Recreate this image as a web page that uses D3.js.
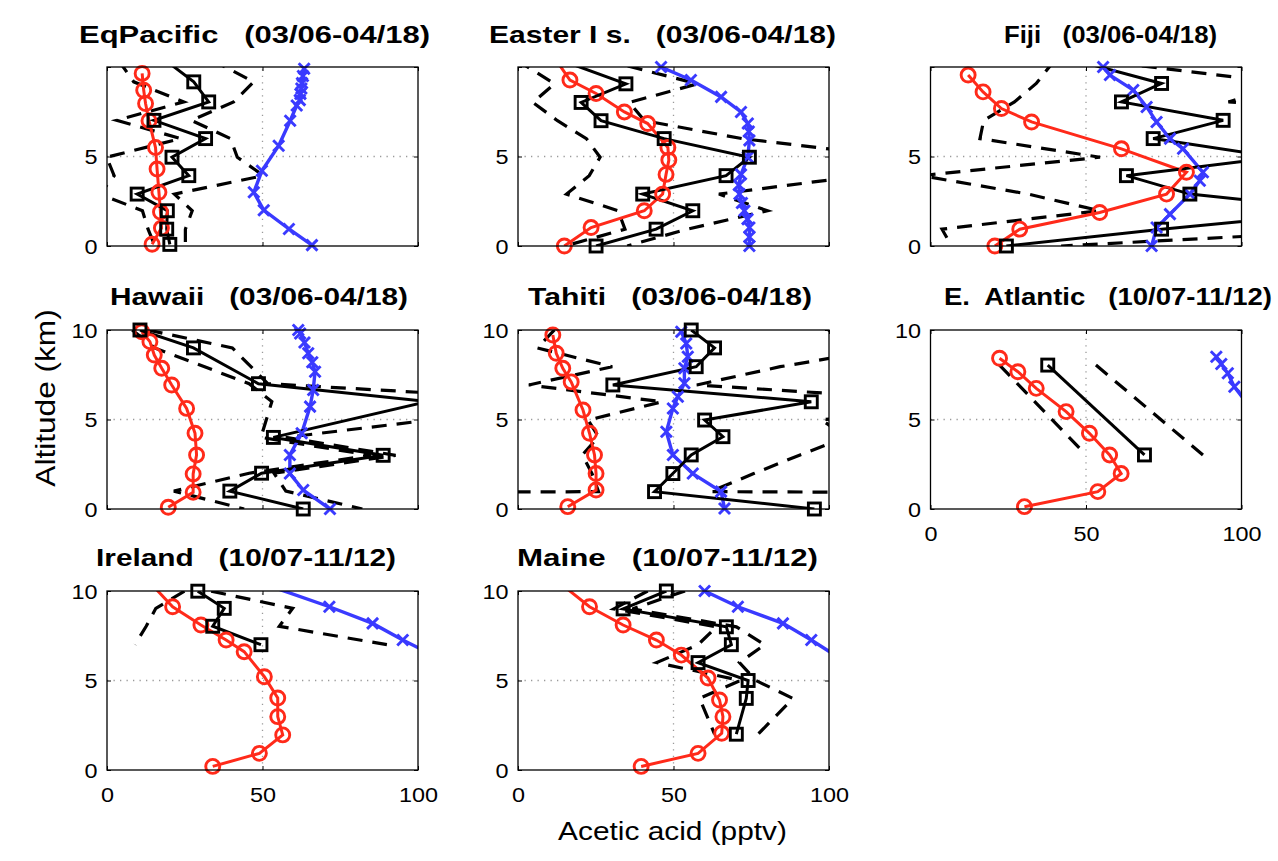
<!DOCTYPE html>
<html><head><meta charset="utf-8">
<script src="https://cdn.jsdelivr.net/npm/d3@7"></script>
<style>
body{margin:0;background:#fff}
svg{display:block}
text{font-family:"Liberation Sans",Arial,Helvetica,sans-serif;fill:#000}
</style>
</head><body>
<svg id="chart" width="1278" height="861"></svg>
<script>
// ---------- data : [acetic acid (pptv), altitude (km)] ----------
// red = observations (circles), black = second data set [mean, alt, std] (squares, dashed = mean ± std), blue = model (x)
const xTicks = [0, 50, 100];
const yTicks = [0, 5, 10];
const yTicksTop = [0, 5];

const eqRed   = [[14.5,0.1],[17.5,1.0],[17.2,1.9],[16.7,3.0],[16.1,4.3],[15.6,5.5],[13.5,7.0],[12.4,7.96],[11.8,8.7],[11.3,9.64]];
const eqBlack = [[18.6,10.4,15],[27.9,9.17,19.3],[32.7,8.05,8],[15.1,7.02,12],[31.7,6.0,8],[20.9,4.96,21],[26.3,3.93,24],[9.7,2.9,12],[19.4,1.97,8],[19.2,0.94,6],[20.2,0.09,5]];
const eqBlue  = [[63.4,9.9],[63.0,9.5],[62.7,9.1],[62.5,8.8],[62.2,8.5],[62.0,8.15],[61.0,7.85],[58.9,7.0],[55.2,5.6],[49.8,4.2],[47.2,3.0],[50.4,2.0],[58.5,0.95],[65.9,0.05]];

const eaRed   = [[12.2,10.4],[16.7,9.27],[25.1,8.52],[34.2,7.49],[41.7,6.84],[48.2,5.5],[48.5,4.8],[47.6,4.0],[46.5,2.9],[40.6,1.97],[23.5,1.03],[14.9,0.0]];
const eaBlack = [[13.5,10.4,14],[34.7,9.06,23],[20.3,8.02,15.5],[26.7,7.0,14],[47.0,6.0,25],[74.4,4.96,48],[66.9,3.93,44],[40.1,2.9,24.5],[56.2,1.97,24],[44.4,0.94,10],[25.1,0,10]];
const eaBlue  = [[46,10.0],[55.6,9.27],[65.3,8.33],[71.7,7.49],[73.9,6.84],[74.2,6.4],[74.4,5.9],[73.9,4.96],[71.7,4.0],[71.0,3.4],[71.2,2.9],[72.0,2.4],[72.8,1.97],[73.8,1.5],[74.4,1.03],[74.4,0.5],[74.4,0.0]];

const fjRed   = [[20.7,0],[28.7,0.94],[54.4,1.87],[75.9,2.9],[82.3,4.12],[61.4,5.43],[32.5,6.93],[22.8,7.68],[16.9,8.61],[12.1,9.55]];
const fjBlack = [[46,10.4,6],[74.3,9.08,40.3],[61.4,8.05,34.4],[94.1,7.02,77],[71.6,6.0,55.7],[111.5,4.96,57],[63,3.93,66],[83.4,2.9,52],[135.8,1.97,81.4],[74.3,0.94,70.6],[24.4,0,17.6]];
const fjBlue  = [[55.5,10.0],[57.7,9.55],[65.2,8.71],[69.5,7.77],[72.7,6.93],[77,6.0],[81.2,5.43],[87.6,4.12],[86.6,3.65],[83.4,2.9],[77,1.78],[72.7,1.03],[71.1,0]];

const hwRed   = [[19.7,0.1],[27.7,0.93],[27.7,1.96],[28.8,3.02],[28.3,4.23],[25.6,5.62],[20.8,6.93],[17.6,7.86],[15.2,8.6],[13.8,9.35],[11.2,9.9]];
const hwBlack = [[10.6,10,2.5],[27.8,9,12.5],[48.7,7,3],[103,6,50],[53.5,4,4],[88.8,3,4],[49.7,2,4],[39.5,1,18],[63.1,0,19]];
const hwBlue  = [[61.5,10],[62.1,9.8],[63.5,9.3],[64.7,8.7],[66,8.2],[66.9,7.67],[66.3,6.65],[65.3,5.72],[62.6,4.23],[58.8,3.02],[58.8,1.98],[63.1,1.06],[71.7,0]];

const thRed   = [[16.0,0.13],[25.1,1.06],[25.1,1.98],[24.6,3.02],[23.0,4.23],[20.9,5.53],[17.1,7.1],[14.4,7.86],[12.3,8.7],[11.2,9.72]];
const thBlack = [[55.7,10,44],[63.2,9,57],[57.3,7.95,27],[30.5,6.93,27],[94.3,5.99,48],[60,4.97,37.5],[65.9,4.04,40],[55.7,3.02,35],[49.8,1.98,26],[43.9,0.97,18],[95.3,0,1400]];
const thBlue  = [[52.5,9.9],[54.1,9.25],[54.6,8.51],[53.5,7.86],[53.5,7.02],[51.4,6.27],[49.8,5.62],[47.7,4.32],[49.8,3.02],[56.2,1.98],[65.3,0.97],[66.4,0.03]];

const atRed   = [[30.2,0.13],[53.8,0.97],[61.3,1.98],[57.6,3.02],[51.1,4.23],[43.6,5.44],[34,6.74],[28.1,7.67],[22.2,8.42]];
const atBlack = [[37.7,8.04,15.5],[68.8,3.02,18.8]];
const atBlue  = [[91.9,8.51],[93.5,8.1],[95.6,7.58],[97.7,6.83],[100.5,6.2],[106,5.2]];

const irRed   = [[14.2,10.4],[21.1,9.12],[30.2,8.1],[38.3,7.26],[44.1,6.61],[50.6,5.21],[54.9,4.02],[54.9,2.98],[56.5,1.96],[49,0.93],[34,0.2]];
const irBlack = [[29.2,9.99,4.3],[37.7,9.03,22],[34,8.03,21.4],[49.5,7.0,40.5]];
const irBlue  = [[50.3,10.4],[71.5,9.12],[85.4,8.19],[95.1,7.26],[106,6.33]];

const meRed   = [[13.8,10.4],[23,9.12],[33.8,8.1],[44.5,7.26],[52.5,6.42],[61.1,5.14],[64.8,3.91],[65.9,2.98],[65.5,2.05],[57.9,0.93],[39.6,0.2]];
const meBlack = [[47.7,10,6],[33.8,9,3],[67,8,3.2],[68.6,7,10.7],[57.9,6,13.3],[74,5,2.5],[73.4,4,15],[70.2,2,7]];
const meBlue  = [[60,10.0],[70.7,9.12],[85.2,8.19],[94.3,7.26],[100.2,6.61],[108,5.8]];

// ---------- layout ----------
const W = 311, H = 179;
const colX = [107, 518, 930.5];
const rowY = [67, 330, 591];
const titleBase = [43, 305, 566];
const FONT = '"Liberation Sans",Arial,Helvetica,sans-serif';
const RED = '#ff2a1a', BLUE = '#3a3aff';

const panels = [
  {title:'EqPacific   (03/06-04/18)',      col:0,row:0,tx:79,  tw:351,red:eqRed,black:eqBlack,blue:eqBlue,yt:yTicksTop,xl:false},
  {title:'Easter I s.   (03/06-04/18)',    col:1,row:0,tx:489, tw:347,red:eaRed,black:eaBlack,blue:eaBlue,yt:yTicksTop,xl:false},
  {title:'Fiji   (03/06-04/18)',           col:2,row:0,tx:1004,tw:213,red:fjRed,black:fjBlack,blue:fjBlue,yt:yTicksTop,xl:false},
  {title:'Hawaii   (03/06-04/18)',         col:0,row:1,tx:110, tw:298,red:hwRed,black:hwBlack,blue:hwBlue,yt:yTicks,xl:false},
  {title:'Tahiti   (03/06-04/18)',         col:1,row:1,tx:528, tw:284,red:thRed,black:thBlack,blue:thBlue,yt:yTicks,xl:false},
  {title:'E.  Atlantic   (10/07-11/12)',   col:2,row:1,tx:944, tw:328,red:atRed,black:atBlack,blue:atBlue,yt:yTicks,xl:true},
  {title:'Ireland   (10/07-11/12)',        col:0,row:2,tx:96,  tw:300,red:irRed,black:irBlack,blue:irBlue,yt:yTicks,xl:true},
  {title:'Maine   (10/07-11/12)',          col:1,row:2,tx:517, tw:301,red:meRed,black:meBlack,blue:meBlue,yt:yTicks,xl:true}
];

const svg = d3.select('#chart');
svg.append('rect').attr('width',1278).attr('height',861).attr('fill','#fff');
const defs = svg.append('defs');

panels.forEach((p,i)=>{
  const x0 = colX[p.col], y0 = rowY[p.row];
  const x = d3.scaleLinear().domain([0,100]).range([x0,x0+W]);
  const y = d3.scaleLinear().domain([0,10]).range([y0+H,y0]);
  const g = svg.append('g');
  const cid = 'clip'+i;
  defs.append('clipPath').attr('id',cid).append('rect')
    .attr('x',x0).attr('y',y0).attr('width',W).attr('height',H);

  // grid (dotted) at interior ticks
  g.append('line').attr('x1',x(50)).attr('x2',x(50)).attr('y1',y(0)).attr('y2',y(10))
    .attr('stroke','#9a9a9a').attr('stroke-width',1.3).attr('stroke-dasharray','1.3,5.2');
  g.append('line').attr('x1',x(0)).attr('x2',x(100)).attr('y1',y(5)).attr('y2',y(5))
    .attr('stroke','#9a9a9a').attr('stroke-width',1.3).attr('stroke-dasharray','1.3,5.2');

  // axes (inward ticks)
  const styleAxis = a => { a.select('.domain').remove(); a.attr('font-family',FONT).attr('font-size',19.5); a.selectAll('line').attr('stroke','#000').attr('stroke-width',1); };
  const bx = g.append('g').attr('transform',`translate(0,${y0+H})`)
    .call(d3.axisBottom(x).tickValues(xTicks).tickSize(-4).tickSizeOuter(0).tickPadding(18).tickFormat(p.xl?d3.format('d'):()=>''));
  styleAxis(bx); bx.selectAll('text').attr('transform','scale(1.2,1)').attr('fill','#000');
  const tx = g.append('g').attr('transform',`translate(0,${y0})`)
    .call(d3.axisTop(x).tickValues(xTicks).tickSize(-4).tickSizeOuter(0).tickFormat(()=>''));
  styleAxis(tx);
  const ly = g.append('g').attr('transform',`translate(${x0},0)`)
    .call(d3.axisLeft(y).tickValues(yTicks).tickSize(-4).tickSizeOuter(0).tickPadding(8)
      .tickFormat(v => p.yt.includes(v) ? d3.format('d')(v) : ''));
  styleAxis(ly); ly.selectAll('text').attr('transform','scale(1.2,1)').attr('dy','0.36em').attr('fill','#000');
  const ry = g.append('g').attr('transform',`translate(${x0+W},0)`)
    .call(d3.axisRight(y).tickValues(yTicks).tickSize(-4).tickSizeOuter(0).tickFormat(()=>''));
  styleAxis(ry);

  // data lines (clipped)
  const lc = g.append('g').attr('clip-path',`url(#${cid})`);
  const line = d3.line().x(d=>x(d[0])).y(d=>y(d[1]));
  const lo = p.black.map(d=>[d[0]-d[2],d[1]]);
  const hi = p.black.map(d=>[d[0]+d[2],d[1]]);
  [lo,hi].forEach(s => lc.append('path').attr('d',line(s)).attr('fill','none')
    .attr('stroke','#000').attr('stroke-width',3.2).attr('stroke-dasharray','15,10'));
  lc.append('path').attr('d',line(p.red)).attr('fill','none').attr('stroke',RED).attr('stroke-width',3);
  lc.append('path').attr('d',line(p.blue)).attr('fill','none').attr('stroke',BLUE).attr('stroke-width',3.4);
  lc.append('path').attr('d',line(p.black.map(d=>[d[0],d[1]]))).attr('fill','none').attr('stroke','#000').attr('stroke-width',3);

  const inside = d => d[0]>=0 && d[0]<=100 && d[1]>=0 && d[1]<=10;
  // markers
  g.append('g').selectAll('circle').data(p.red.filter(inside)).join('circle')
    .attr('cx',d=>x(d[0])).attr('cy',d=>y(d[1])).attr('r',7)
    .attr('fill','none').attr('stroke',RED).attr('stroke-width',2.9);
  const xm = g.append('g').selectAll('g').data(p.blue.filter(inside)).join('g')
    .attr('transform',d=>`translate(${x(d[0])},${y(d[1])})`);
  xm.append('path').attr('d','M-5.5,-5.5L5.5,5.5M-5.5,5.5L5.5,-5.5').attr('stroke',BLUE).attr('stroke-width',2.9);
  g.append('g').selectAll('rect').data(p.black.filter(inside)).join('rect')
    .attr('x',d=>x(d[0])-6).attr('y',d=>y(d[1])-6).attr('width',12).attr('height',12)
    .attr('fill','none').attr('stroke','#000').attr('stroke-width',2.9);

  // box
  g.append('rect').attr('x',x0).attr('y',y0).attr('width',W).attr('height',H)
    .attr('fill','none').attr('stroke','#000').attr('stroke-width',1.3);

  // title
  svg.append('text').attr('x',p.tx).attr('y',titleBase[p.row])
    .attr('font-size',24.5).attr('font-weight','bold').style('white-space','pre')
    .attr('textLength',p.tw).attr('lengthAdjust','spacingAndGlyphs').text(p.title);
});

// axis labels
svg.append('text').attr('transform','translate(672.5,840) scale(1.17,1)').attr('text-anchor','middle')
  .attr('font-size',25.5).text('Acetic acid (pptv)');
svg.append('text').attr('transform','translate(55,398) rotate(-90) scale(1.15,1)').attr('text-anchor','middle')
  .attr('font-size',27.5).text('Altitude (km)');
</script>
</body></html>
